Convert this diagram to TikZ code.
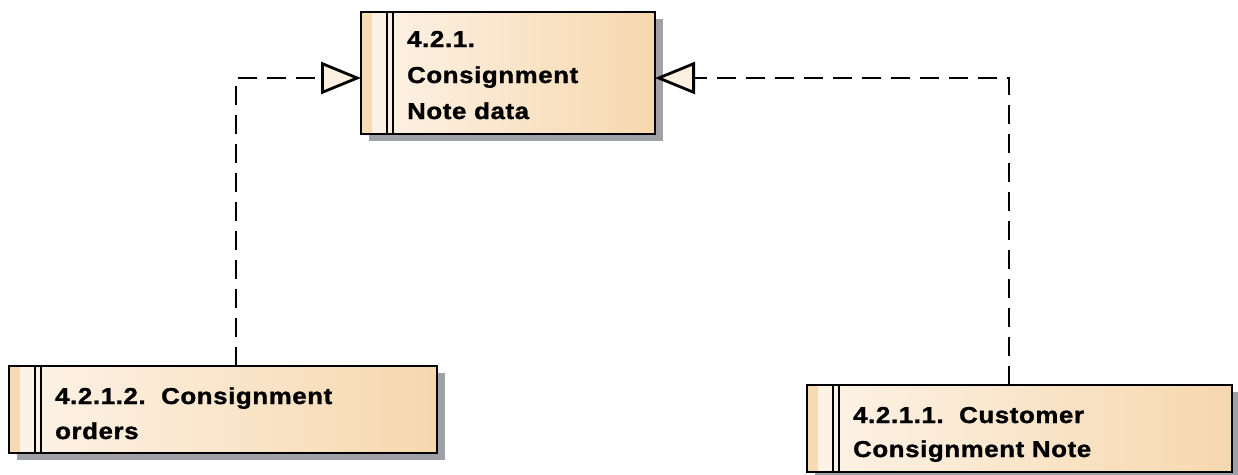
\documentclass[tikz,border=0pt]{standalone}
\usepackage{fontspec}
\setmainfont{Liberation Sans}[LetterSpace=2.5, BoldFeatures={FakeBold=1.3}]
\usetikzlibrary{arrows.meta,shadows,calc}

\definecolor{boxlight}{HTML}{FDF3E8}
\definecolor{boxdark}{HTML}{F6D8AE}
\definecolor{boxstrip}{HTML}{F6DAB2}
\definecolor{shadowgray}{HTML}{A0A1A7}
\definecolor{tipfill}{HTML}{FDF0E0}

\tikzset{
  pkgbox/.style={rectangle, inner sep=0pt, outer sep=0pt, draw=black, line width=2.8pt,
    left color=boxlight, right color=boxdark,
    drop shadow={shadow xshift=8pt, shadow yshift=-7pt, fill=shadowgray, opacity=1}},
  pkgtext/.style={anchor=base west, inner sep=0pt, font=\bfseries\fontsize{23}{35}\selectfont},
  divider/.style={line width=2pt},
  frame/.style={line width=2.8pt},
  realize/.style={line width=2.8pt, dash pattern=on 19pt off 10pt,
    -{Triangle[open, length=40pt, width=32pt, fill=tipfill, line width=2.8pt]}}
}

% left band and double divider of a package box, then its frame again on top
\newcommand{\pkgstrip}[1]{%
  \fill[boxstrip] (#1.north west) rectangle ($(#1.south west)+(11,0)$);
  \draw[divider] ($(#1.north west)+(26,0)$) -- ($(#1.south west)+(26,0)$);
  \draw[divider] ($(#1.north west)+(32,0)$) -- ($(#1.south west)+(32,0)$);
  \draw[frame] (#1.north west) rectangle (#1.south east);
}
\newcommand{\wide}[1]{\scalebox{1.12}[1]{#1}}

\begin{document}
\begin{tikzpicture}[x=1pt, y=-1pt]
  \clip (0,0) rectangle (1238,474);
  \useasboundingbox (0,0) rectangle (1238,474);

  % package boxes
  \node[pkgbox, minimum width=294pt, minimum height=122pt] (data) at (508,73) {};
  \node[pkgbox, minimum width=428pt, minimum height=87pt] (orders) at (223,409.5) {};
  \node[pkgbox, minimum width=425pt, minimum height=87pt] (customer) at (1019.5,428.5) {};

  \pkgstrip{data}
  \pkgstrip{orders}
  \pkgstrip{customer}

  % package titles
  \node[pkgtext] (datatext) at (407,47)
    {\vtop{\baselineskip=36pt\hbox{\wide{4.2.1.}}\hbox{\wide{Consignment}}\hbox{\wide{Note data}}}};
  \node[pkgtext] (orderstext) at (55,404)
    {\vtop{\baselineskip=35pt\hbox{\wide{4.2.1.2.\ \ Consignment}}\hbox{\wide{orders}}}};
  \node[pkgtext] (customertext) at (853,423)
    {\vtop{\baselineskip=34pt\hbox{\wide{4.2.1.1.\ \ Customer}}\hbox{\wide{Consignment Note}}}};

  % realization connectors
  \coordinate (lbend) at (236,78);
  \coordinate (rbend) at (1009,78);
  \draw[realize] (orders.north -| lbend) -- (lbend) -- (data.west |- lbend);
  \draw[realize] (customer.north -| rbend) -- (rbend) -- (data.east |- rbend);
\end{tikzpicture}
\end{document}
